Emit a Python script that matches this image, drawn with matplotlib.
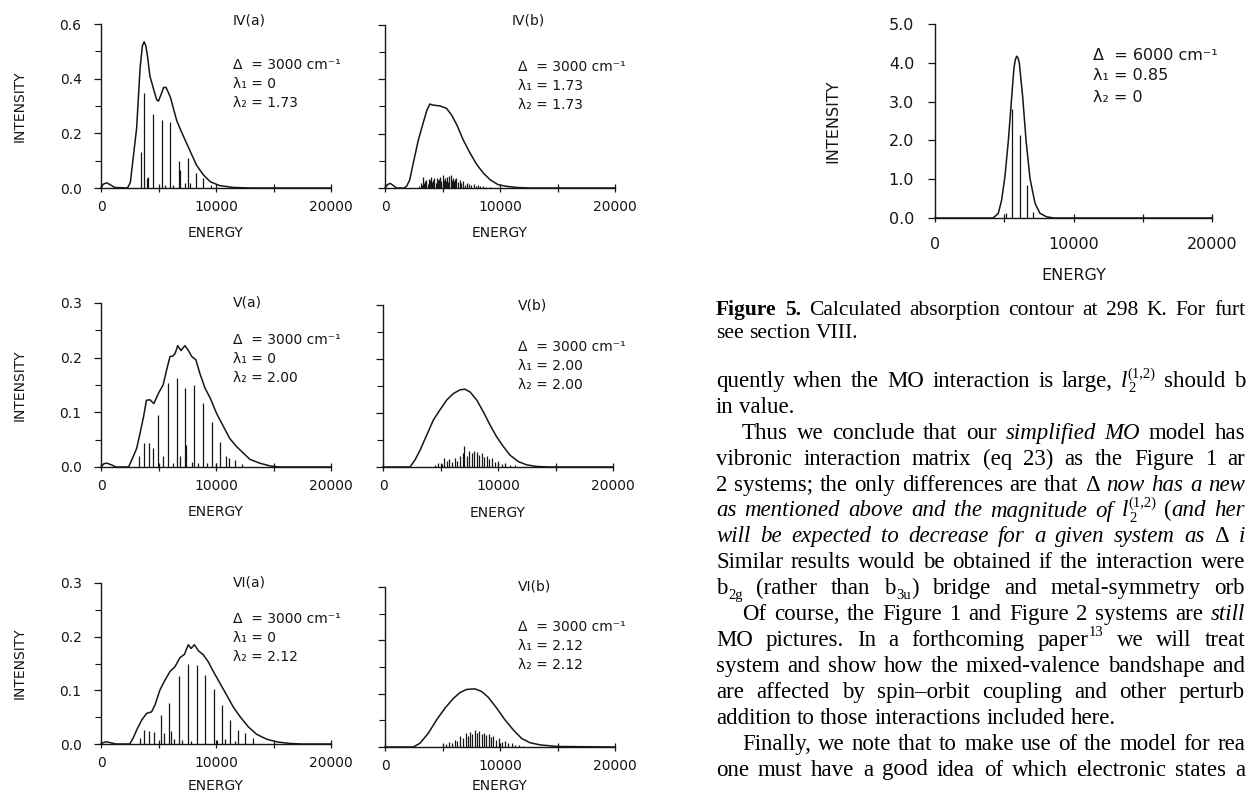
import re
import matplotlib.pyplot as plt
from matplotlib.ticker import MultipleLocator, FormatStrFormatter

W, H = 1248, 796
INK = '#161616'

plt.rcParams['font.family'] = 'DejaVu Sans'

# ---- data (energy in cm-1, intensity) ----
# IV(a)
iva_curve_e = [0, 200, 500, 800, 1200, 2300, 2550, 2800, 3100, 3400, 3600, 3750, 3900, 4050, 4250,
               4550, 4850, 5000, 5250, 5450, 5650, 5850, 6050, 6300, 6600, 7000, 7450, 7900, 8300,
               8900, 9500, 10300, 11500, 13000, 20000]
iva_curve_i = [0.0, 0.014, 0.019, 0.012, 0.002, 0.0, 0.02, 0.11, 0.22, 0.44, 0.52, 0.535, 0.52, 0.48, 0.41,
               0.365, 0.322, 0.318, 0.345, 0.368, 0.368, 0.35, 0.33, 0.29, 0.245, 0.205, 0.163, 0.121, 0.084,
               0.048, 0.023, 0.009, 0.002, 0.0, 0.0]
iva_stick_e = [3450, 3740, 3970, 4120, 4550, 5330, 5530, 6000, 6280, 6800, 6860, 7300, 7540, 7750, 8230, 8900, 9600]
iva_stick_i = [0.133, 0.347, 0.035, 0.04, 0.27, 0.25, 0.01, 0.24, 0.01, 0.10, 0.065, 0.02, 0.11, 0.02, 0.055, 0.035, 0.012]

# IV(b)
ivb_curve_e = [0, 200, 450, 700, 1000, 1700, 1900, 2150, 2450, 2900, 3350, 3650, 3900, 4200, 4800, 5350,
               5800, 6250, 6800, 7400, 8000, 8550, 9150, 9850, 10600, 11450, 12500, 20000]
ivb_curve_i = [0.0, 0.012, 0.017, 0.01, 0.0, 0.0, 0.008, 0.03, 0.09, 0.177, 0.244, 0.287, 0.309, 0.305, 0.302, 0.293,
               0.268, 0.232, 0.177, 0.128, 0.085, 0.055, 0.03, 0.012, 0.006, 0.002, 0.0, 0.0]
ivb_stick_e = [2950, 3100, 3200, 3300, 3400, 3500, 3600, 3700, 3800, 3900, 4000, 4100, 4200, 4300, 4400, 4500,
               4600, 4700, 4800, 4900, 5000, 5100, 5200, 5300, 5400, 5500, 5600, 5700, 5800, 5900, 6000, 6100,
               6200, 6350, 6500, 6650, 6800, 6950, 7100, 7300, 7500, 7700, 7900, 8100, 8300, 8500, 8800, 9100]
ivb_stick_i = [0.006, 0.02, 0.012, 0.04, 0.018, 0.025, 0.03, 0.015, 0.034, 0.028, 0.04, 0.022, 0.03, 0.035, 0.02, 0.038,
               0.028, 0.033, 0.042, 0.025, 0.048, 0.03, 0.036, 0.026, 0.04, 0.022, 0.046, 0.048, 0.03, 0.036, 0.024, 0.032,
               0.038, 0.022, 0.03, 0.018, 0.024, 0.012, 0.02, 0.016, 0.01, 0.014, 0.008, 0.01, 0.006, 0.008, 0.005, 0.004]

# V(a)
va_curve_e = [0, 250, 500, 900, 1300, 2400, 2800, 3100, 3400, 3700, 3950, 4250, 4600, 5000, 5400, 5700, 6000,
              6250, 6450, 6670, 6950, 7300, 7600, 7900, 8250, 8600, 9050, 9500, 10050, 10650, 11200, 11800,
              12400, 12950, 13800, 14700, 15500, 20000]
va_curve_i = [0.0, 0.006, 0.007, 0.004, 0.0, 0.0, 0.019, 0.034, 0.062, 0.092, 0.122, 0.123, 0.116, 0.135, 0.15, 0.177, 0.202,
              0.203, 0.208, 0.222, 0.213, 0.222, 0.213, 0.202, 0.196, 0.171, 0.144, 0.126, 0.098, 0.074, 0.052, 0.037,
              0.025, 0.014, 0.007, 0.002, 0.0, 0.0]
va_stick_e = [3300, 3740, 4200, 4550, 4990, 5360, 5850, 6230, 6580, 6870, 7300, 7360, 7880, 8120, 8460, 8900,
              9190, 9620, 10000, 10350, 10870, 11160, 11650, 12230]
va_stick_i = [0.02, 0.043, 0.043, 0.034, 0.095, 0.02, 0.154, 0.008, 0.163, 0.02, 0.145, 0.04, 0.01, 0.15, 0.008, 0.117,
              0.007, 0.083, 0.008, 0.046, 0.02, 0.016, 0.013, 0.006]

# V(b)
vb_curve_e = [0, 2350, 2780, 3220, 3800, 4380, 4960, 5540, 6120, 6700, 7130, 7570, 8150, 8730, 9300, 9880,
              10460, 11040, 11770, 12490, 13360, 14500, 20000]
vb_curve_i = [0.0, 0.0, 0.013, 0.031, 0.059, 0.087, 0.106, 0.124, 0.136, 0.143, 0.144, 0.139, 0.124, 0.102, 0.078, 0.056,
              0.038, 0.022, 0.010, 0.004, 0.001, 0.0, 0.0]
vb_stick_e = [4520, 4810, 5100, 5300, 5540, 5770, 5970, 6260, 6460, 6700, 6930, 7040, 7280, 7510, 7710, 7910,
              8150, 8380, 8580, 8810, 9010, 9250, 9480, 9740, 10030, 10320, 10610, 11040, 11480]
vb_stick_i = [0.004, 0.008, 0.006, 0.017, 0.012, 0.014, 0.01, 0.017, 0.012, 0.02, 0.026, 0.038, 0.02, 0.03, 0.026, 0.03,
              0.028, 0.022, 0.026, 0.018, 0.02, 0.014, 0.016, 0.01, 0.012, 0.006, 0.008, 0.004, 0.003]

# VI(a)
via_curve_e = [0, 250, 500, 900, 1300, 2500, 2800, 3100, 3550, 3970, 4400, 4700, 5130, 5560, 6000, 6430, 6870,
               7250, 7590, 7830, 8120, 8460, 8900, 9330, 9770, 10350, 10930, 11500, 12090, 12810, 13540, 14400,
               15280, 16430, 17500, 20000]
via_curve_i = [0.0, 0.003, 0.004, 0.002, 0.0, 0.0, 0.011, 0.026, 0.045, 0.057, 0.060, 0.073, 0.101, 0.119, 0.135, 0.144,
               0.161, 0.167, 0.185, 0.178, 0.185, 0.174, 0.166, 0.153, 0.135, 0.113, 0.091, 0.069, 0.051, 0.032, 0.018,
               0.009, 0.004, 0.001, 0.0, 0.0]
via_stick_e = [3390, 3770, 4170, 4640, 5190, 5510, 5940, 6090, 6380, 6810, 7020, 7590, 7800, 8380, 9040, 9860,
               10060, 10490, 10780, 11220, 11650, 11880, 12520, 13250]
via_stick_i = [0.012, 0.027, 0.025, 0.023, 0.054, 0.02, 0.077, 0.025, 0.01, 0.127, 0.008, 0.149, 0.006, 0.147, 0.129, 0.102,
               0.008, 0.073, 0.01, 0.045, 0.006, 0.027, 0.02, 0.012]

# VI(b)
vib_curve_e = [0, 2460, 3040, 3770, 4490, 5220, 5940, 6520, 7100, 7830, 8410, 8990, 9710, 10430, 11160, 11880,
               12610, 13480, 14930, 20000]
vib_curve_i = [0.0, 0.0, 0.007, 0.026, 0.051, 0.073, 0.091, 0.102, 0.108, 0.109, 0.104, 0.093, 0.073, 0.051, 0.032, 0.016,
               0.008, 0.004, 0.001, 0.0]
vib_stick_e = [5000, 5300, 5550, 5800, 6050, 6300, 6500, 6750, 7000, 7200, 7400, 7600, 7800, 8000, 8200, 8400,
               8600, 8800, 9000, 9200, 9400, 9650, 9900, 10150, 10400, 10700, 11000, 11300, 11650, 12000]
vib_stick_i = [0.004, 0.006, 0.01, 0.008, 0.014, 0.012, 0.02, 0.016, 0.026, 0.02, 0.028, 0.024, 0.031, 0.026, 0.03, 0.025,
               0.027, 0.022, 0.024, 0.018, 0.02, 0.014, 0.016, 0.01, 0.011, 0.007, 0.007, 0.004, 0.004, 0.002]

# Figure 5
f5_curve_e = [0, 4200, 4570, 4810, 5050, 5300, 5540, 5700, 5800, 5900, 6000, 6090, 6330, 6570, 6860, 7220, 7580, 8060, 8600, 20000]
f5_curve_i = [0.0, 0.0, 0.12, 0.46, 1.07, 2.01, 3.13, 3.86, 4.08, 4.17, 4.12, 3.99, 3.13, 2.01, 1.02, 0.38, 0.12, 0.03, 0.0, 0.0]
f5_stick_e = [5130, 5580, 6140, 6620, 7100]
f5_stick_i = [0.12, 2.8, 2.15, 0.85, 0.15]

fig = plt.figure(figsize=(W / 100, H / 100), dpi=100)


def fx(x):
    return x / W


def fy(y):
    return 1 - y / H


def panel(box, ce, ci, se, si, ymax, ymaj, ymin, left_labels, energy_y, big=False):
    l, t, r, b = box
    ax = fig.add_axes([fx(l), fy(b), (r - l) / W, (b - t) / H])
    ax.plot(ce, ci, color=INK, lw=1.1, clip_on=False)
    ax.vlines(se, 0, si, color=INK, lw=0.9)
    ax.set_xlim(0, 20000)
    ax.set_ylim(0, ymax)
    for s in ('top', 'right'):
        ax.spines[s].set_visible(False)
    for s in ('left', 'bottom'):
        ax.spines[s].set_linewidth(1.0)
        ax.spines[s].set_color(INK)
    ax.xaxis.set_major_locator(MultipleLocator(10000))
    ax.xaxis.set_minor_locator(MultipleLocator(5000))
    ax.yaxis.set_major_locator(MultipleLocator(ymaj))
    if ymin:
        ax.yaxis.set_minor_locator(MultipleLocator(ymin))
    ax.yaxis.set_major_formatter(FormatStrFormatter('%.1f'))
    fs = 11.5 if big else 10
    ax.tick_params(axis='x', which='both', direction='inout', length=6, width=0.9, colors=INK,
                   labelsize=fs, pad=10.5 if big else 5.8)
    ax.tick_params(axis='y', which='major', direction='out', length=5, width=0.9, colors=INK,
                   labelsize=fs, pad=10 if big else 9)
    ax.tick_params(axis='y', which='minor', direction='out', length=4, width=0.8, colors=INK)
    if not left_labels:
        ax.tick_params(axis='y', labelleft=False)
    else:
        ax.set_ylabel('INTENSITY', fontsize=fs, color=INK, va='center')
        ax.yaxis.set_label_coords(-(102 if big else 81) / (r - l), 0.5)
    ax.set_xlabel('ENERGY', fontsize=fs, color=INK, va='center')
    ax.xaxis.set_label_coords(0.5, -(energy_y - b) / (b - t))
    return ax


panel((101, 24, 331, 188), iva_curve_e, iva_curve_i, iva_stick_e, iva_stick_i, 0.6, 0.2, 0.1, True, 233)
panel((385, 25, 615, 188), ivb_curve_e, ivb_curve_i, ivb_stick_e, ivb_stick_i, 0.6, 0.2, 0.1, False, 233)
panel((101, 303, 331, 467), va_curve_e, va_curve_i, va_stick_e, va_stick_i, 0.3, 0.1, 0.05, True, 512)
panel((383, 305, 613, 467), vb_curve_e, vb_curve_i, vb_stick_e, vb_stick_i, 0.3, 0.1, 0.05, False, 513)
panel((101, 583, 331, 744), via_curve_e, via_curve_i, via_stick_e, via_stick_i, 0.3, 0.1, 0.05, True, 786)
panel((385, 587, 615, 747), vib_curve_e, vib_curve_i, vib_stick_e, vib_stick_i, 0.3, 0.1, 0.05, False, 786)
panel((935, 24, 1212, 218), f5_curve_e, f5_curve_i, f5_stick_e, f5_stick_i, 5.0, 1.0, None, True, 275, big=True)

# panel titles and parameter blocks
titles = [('IV(a)', 233, 20), ('IV(b)', 512, 20), ('V(a)', 233, 303),
          ('V(b)', 518, 305), ('VI(a)', 233, 582), ('VI(b)', 518, 587)]
for s, x, y in titles:
    fig.text(fx(x), fy(y), s, fontsize=10, color=INK, va='center', ha='left')

params = [
    (233, 65, ['Δ  = 3000 cm⁻¹', 'λ₁ = 0', 'λ₂ = 1.73'], 10),
    (518, 67, ['Δ  = 3000 cm⁻¹', 'λ₁ = 1.73', 'λ₂ = 1.73'], 10),
    (233, 340, ['Δ  = 3000 cm⁻¹', 'λ₁ = 0', 'λ₂ = 2.00'], 10),
    (518, 347, ['Δ  = 3000 cm⁻¹', 'λ₁ = 2.00', 'λ₂ = 2.00'], 10),
    (233, 619, ['Δ  = 3000 cm⁻¹', 'λ₁ = 0', 'λ₂ = 2.12'], 10),
    (518, 627, ['Δ  = 3000 cm⁻¹', 'λ₁ = 2.12', 'λ₂ = 2.12'], 10),
    (1093, 55, ['Δ  = 6000 cm⁻¹', 'λ₁ = 0.85', 'λ₂ = 0'], 11.5),
]
for x, y, rows, fs in params:
    step = 21 if fs > 11 else 19
    for k, s in enumerate(rows):
        fig.text(fx(x), fy(y + k * step), s, fontsize=fs, color=INK, va='center', ha='left')

# ---- running text of the page (right column), justified word by word ----
# markup: *italic*  **bold**  _{sub}  ^{sup}
caption = [
    (0, True, "**Figure** **5.** Calculated absorption contour at 298 K. For furt"),
    (0, False, "see section VIII."),
]
body = [
    (0, True, "quently when the MO interaction is large, *l*_{2}^{(1,2)} should b"),
    (0, False, "in value."),
    (1, True, "Thus we conclude that our *simplified* *MO* model has"),
    (0, True, "vibronic interaction matrix (eq 23) as the Figure 1 ar"),
    (0, True, "2 systems; the only differences are that Δ *now* *has* *a* *new*"),
    (0, True, "*as* *mentioned* *above* *and* *the* *magnitude* *of* *l*_{2}^{(1,2)} (*and* *her*"),
    (0, True, "*will* *be* *expected* *to* *decrease* *for* *a* *given* *system* *as* Δ *i*"),
    (0, True, "Similar results would be obtained if the interaction were"),
    (0, True, "b_{2g} (rather than b_{3u}) bridge and metal-symmetry orb"),
    (1, True, "Of course, the Figure 1 and Figure 2 systems are *still*"),
    (0, True, "MO pictures. In a forthcoming paper^{13} we will treat"),
    (0, True, "system and show how the mixed-valence bandshape and"),
    (0, True, "are affected by spin–orbit coupling and other perturb"),
    (0, False, "addition to those interactions included here."),
    (1, True, "Finally, we note that to make use of the model for rea"),
    (0, True, "one must have a good idea of which electronic states a"),
]

serif = 'Liberation Serif'
renderer = fig.canvas.get_renderer()
TOKEN = re.compile(r'\*\*[^*]+\*\*|\*[^*]+\*|_\{[^}]*\}|\^\{[^}]*\}|[^*_^]+')


def word_pieces(word):
    out = []
    for tok in TOKEN.findall(word):
        if tok.startswith('**'):
            out.append((tok[2:-2], 'b'))
        elif tok.startswith('*'):
            out.append((tok[1:-1], 'i'))
        elif tok.startswith('_{'):
            out.append((tok[2:-1], 'sub'))
        elif tok.startswith('^{'):
            out.append((tok[2:-1], 'sup'))
        else:
            out.append((tok, 'r'))
    return out


def set_line(x0, base, line, justify, fs, right=1245):
    em = fs * 100 / 72
    words = []
    for w in line.split():
        items = []
        for s, kind in word_pieces(w):
            size, yb, kw = fs, base, {}
            if kind == 'i':
                kw['style'] = 'italic'
            elif kind == 'b':
                kw['weight'] = 'bold'
            elif kind == 'sub':
                size, yb = fs * 0.64, base + 0.22 * em
            elif kind == 'sup':
                size, yb = fs * 0.64, base - 0.42 * em
            t = fig.text(fx(x0), fy(yb), s, fontsize=size, family=serif, color='black',
                         va='baseline', ha='left', **kw)
            items.append((t, kind, t.get_window_extent(renderer=renderer).width))
        # width of the word; a superscript after a subscript stacks over it
        wsum, k = 0.0, 0
        layout = []
        prev_kind, prev_x, prev_w = None, 0.0, 0.0
        x = 0.0
        for t, kind, w in items:
            if kind == 'sup' and prev_kind == 'sub':
                layout.append((t, prev_x))
                x = max(x, prev_x + w)
            else:
                layout.append((t, x + (1.0 if kind in ('sub', 'sup') else 0.0)))
                prev_x, prev_w = x, w
                x += w + (1.0 if kind in ('sub', 'sup') else 0.0)
            prev_kind = kind
        words.append((layout, x))
    total = sum(w for _, w in words)
    space = 0.25 * em
    if justify and len(words) > 1:
        gap = max((right - x0 - total) / (len(words) - 1), 0.5 * space)
    else:
        gap = space
    x = x0
    for layout, w in words:
        for t, dx in layout:
            t.set_x(fx(x + dx))
        x += w + gap


bx, ind = 716, 26
set_line(bx, 315, caption[0][2], True, 15.5)
set_line(bx, 338, caption[1][2], False, 15.5)
for k, (indent, just, s) in enumerate(body):
    set_line(bx + indent * ind, 387 + 25.9 * k, s, just, 16.5)

fig.savefig('out.png', dpi=100)
plt.close(fig)
